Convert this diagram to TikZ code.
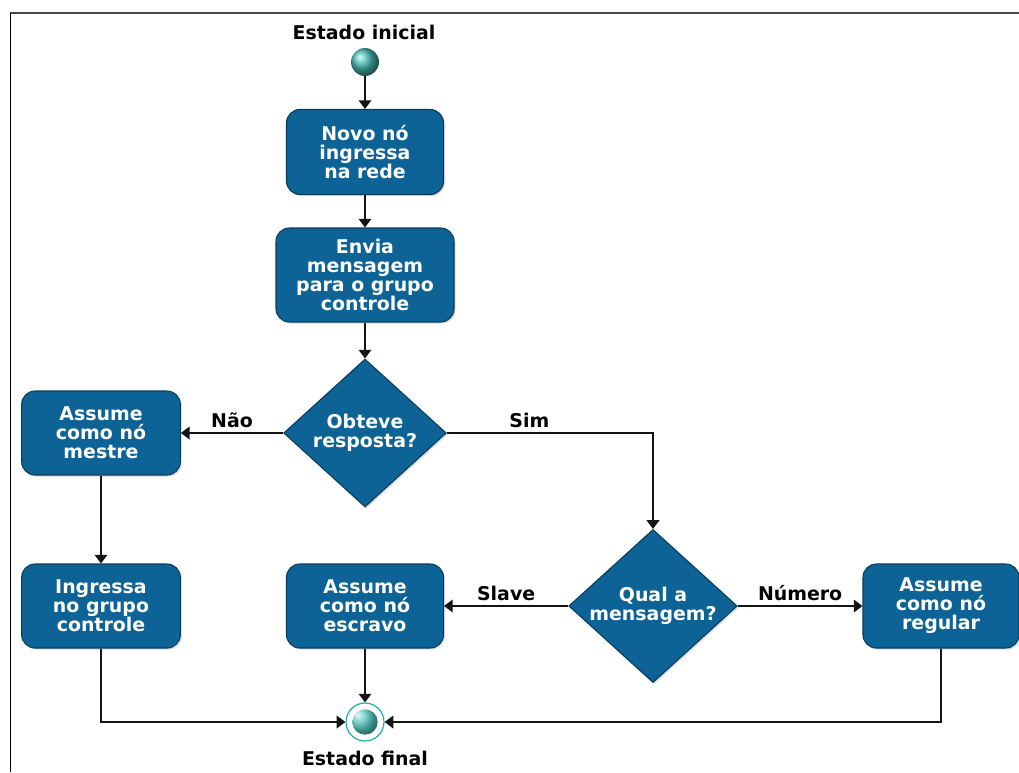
\documentclass[tikz,border=0pt]{standalone}
\usepackage{fontspec}
\setmainfont{DejaVu Sans}
\usetikzlibrary{shapes.geometric, arrows.meta, shadows}
\definecolor{nodeblue}{RGB}{14,99,150}
\definecolor{edgeblue}{RGB}{8,60,95}
\definecolor{ballteal}{RGB}{30,175,165}
\definecolor{linegray}{RGB}{20,20,20}
\definecolor{framegray}{RGB}{70,70,70}

\tikzset{
  caixa/.style={rectangle, rounded corners=10pt, fill=nodeblue, draw=edgeblue, line width=0.8pt,
    text=white, align=center, font=\fontsize{14.2}{14.3}\selectfont\bfseries,
    drop shadow={shadow xshift=1.2pt, shadow yshift=-1.2pt, opacity=0.25}},
  decisao/.style={diamond, aspect=1.1, inner sep=0pt, fill=nodeblue, draw=edgeblue, line width=0.8pt,
    text=white, align=center, font=\fontsize{14.2}{14.3}\selectfont\bfseries,
    minimum width=122pt, minimum height=111pt,
    drop shadow={shadow xshift=1.2pt, shadow yshift=-1.2pt, opacity=0.25}},
  seta/.style={-{Triangle[length=6.5pt, width=9.5pt]}, line width=1.1pt, linegray},
  rotulo/.style={font=\fontsize{14.2}{14.3}\selectfont\bfseries, text=black, inner sep=1.5pt},
  inicial/.style={circle, minimum size=21pt, inner sep=0pt, ball color=ballteal!80!white},
  final/.style={circle, minimum size=28.5pt, inner sep=0pt, draw=ballteal, fill=white, line width=0.9pt,
    path picture={\shade[ball color=ballteal!80!white] (path picture bounding box.center) circle (9.5pt);}}
}

\begin{document}
\begin{tikzpicture}[x=0.75pt, y=-0.75pt]
\useasboundingbox (0,0) rectangle (1019,772);

% Frame
\draw[framegray, line width=1.8pt] (10,13) -- (1019,13);
\draw[black, line width=1.1pt] (10.5,13) -- (10.5,772);

% Start state
\node[rotulo] (titinicio) at (364,32) {Estado inicial};
\node[inicial] (inicio) at (365,62) {};

% Main column
\node[caixa, minimum width=117.75pt, minimum height=63.75pt] (novo) at (365,152) {Novo nó\\ingressa\\na rede};
\node[caixa, minimum width=133.5pt, minimum height=70.5pt] (envia) at (365,275) {Envia\\mensagem\\para o grupo\\controle};
\node[decisao] (obteve) at (365,433) {Obteve\\resposta?};

% Left branch
\node[caixa, minimum width=119pt, minimum height=63pt] (mestre) at (101,433) {Assume\\como nó\\mestre};
\node[caixa, minimum width=119pt, minimum height=63pt] (ingressa) at (101,606) {Ingressa\\no grupo\\controle};

% Right branch
\node[decisao] (qual) at (653,606) {Qual a\\mensagem?};
\node[caixa, minimum width=117.75pt, minimum height=63pt] (escravo) at (365,606) {Assume\\como nó\\escravo};
\node[caixa, minimum width=117pt, minimum height=63pt] (regular) at (941,606) {Assume\\como nó\\regular};

% Final state
\node[final] (fim) at (365,722) {};
\node[rotulo] (titfim) at (365,758) {Estado final};

% Connections
\draw[seta] (inicio) -- (novo);
\draw[seta] (novo) -- (envia);
\draw[seta] (envia) -- (obteve);
\draw[seta] (obteve) -- node[rotulo, above=2pt] {Não} (mestre);
\draw[seta] (obteve) -| node[rotulo, above=2pt, pos=0.2] {Sim} (qual);
\draw[seta] (mestre) -- (ingressa);
\draw[seta] (qual) -- node[rotulo, above=2pt] {Slave} (escravo);
\draw[seta] (qual) -- node[rotulo, above=2pt] {Número} (regular);
\draw[seta] (escravo) -- (fim);
\draw[seta] (ingressa) |- (fim);
\draw[seta] (regular) |- (fim);
\end{tikzpicture}
\end{document}
